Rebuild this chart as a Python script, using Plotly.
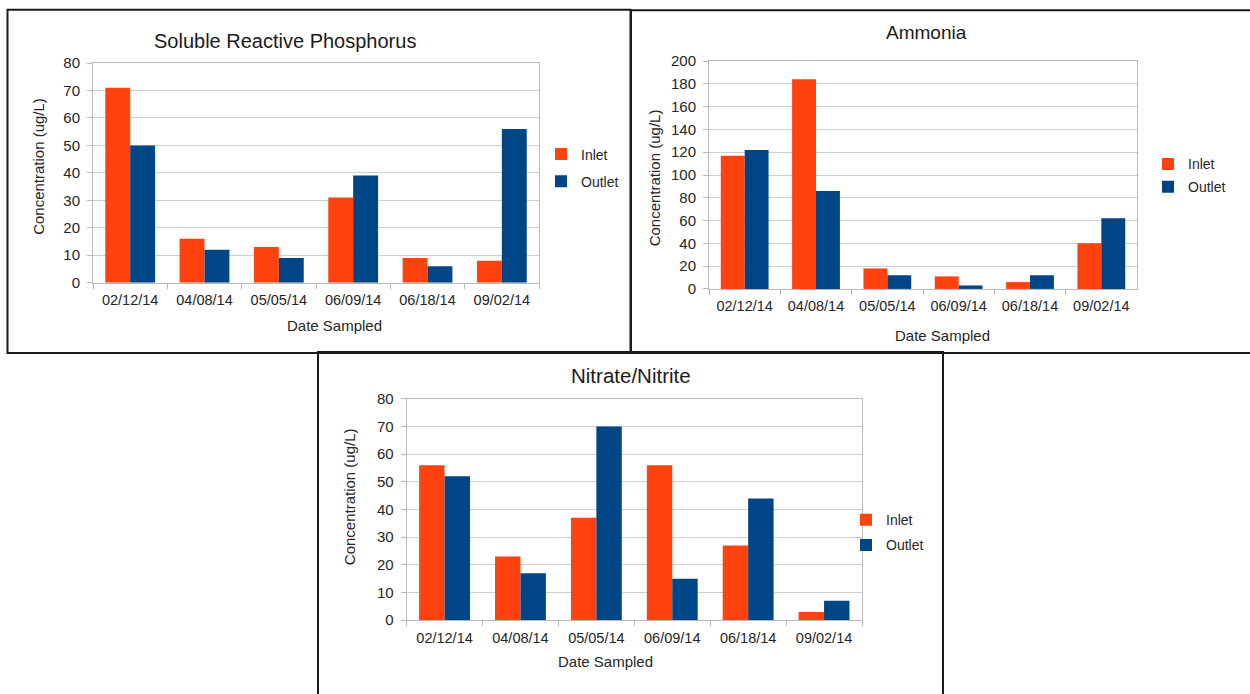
import plotly.graph_objects as go

W, H = 1250, 694

dates = ["02/12/14", "04/08/14", "05/05/14", "06/09/14", "06/18/14", "09/02/14"]

srp_inlet = [71, 16, 13, 31, 9, 8]
srp_outlet = [50, 12, 9, 39, 6, 56]

nh3_inlet = [117, 184, 18, 11, 6, 40]
nh3_outlet = [122, 86, 12, 3, 12, 62]

nox_inlet = [56, 23, 37, 56, 27, 3]
nox_outlet = [52, 17, 70, 15, 44, 7]

INLET_COLOR = "#FF420E"
OUTLET_COLOR = "#004586"
FONT = "Liberation Sans, Arial, sans-serif"
TEXT = "#262626"
GRID = "#cfcfcf"
AXIS = "#b8b8b8"

# page placement: top offset and usable height of the drawing on screen
TOP, SPAN = 7.8, 678.4


def fx(x):
    return x / W


def fy(y):
    return 1 - (y - TOP) / SPAN


panels = [
    dict(name="Soluble Reactive Phosphorus", inlet=srp_inlet, outlet=srp_outlet,
         x0=93, x1=539, y0=62, y1=282, ymax=80, dtick=10, title_size=20,
         title_xy=(285, 39.5), xt_xy=(334, 325), yt_xy=(39, 166),
         legend_xy=(541, 137.5), legend_gap=6, box=(7.5, 8.5, 630.5, 352.5)),
    dict(name="Ammonia", inlet=nh3_inlet, outlet=nh3_outlet,
         x0=709, x1=1137, y0=60, y1=288.3, ymax=200, dtick=20, title_size=19,
         title_xy=(926, 31.7), xt_xy=(942, 335), yt_xy=(654, 177.5),
         legend_xy=(1148, 147.5), legend_gap=1.5, box=(631, 9, 1253, 352.5)),
    dict(name="Nitrate/Nitrite", inlet=nox_inlet, outlet=nox_outlet,
         x0=406.6, x1=862, y0=398.3, y1=620.3, ymax=80, dtick=10, title_size=20.5,
         title_xy=(631, 375.5), xt_xy=(605, 662), yt_xy=(349, 497),
         legend_xy=(846, 504), legend_gap=4, box=(318, 351.5, 943, 720)),
]

fig = go.Figure()
annotations = []
shapes = []
layout_axes = {}

for i, p in enumerate(panels, start=1):
    suffix = "" if i == 1 else str(i)
    xa, ya = "x" + suffix, "y" + suffix
    leg = "legend" + suffix

    fig.add_trace(go.Bar(
        x=dates, y=p["inlet"], name="Inlet", marker_color=INLET_COLOR,
        marker_line_width=0, xaxis=xa, yaxis=ya, legend=leg,
        legendgroup="inlet%d" % i, hoverinfo="x+y+name"))
    fig.add_trace(go.Bar(
        x=dates, y=p["outlet"], name="Outlet", marker_color=OUTLET_COLOR,
        marker_line_width=0, xaxis=xa, yaxis=ya, legend=leg,
        legendgroup="outlet%d" % i, hoverinfo="x+y+name"))

    layout_axes["xaxis" + suffix] = dict(
        domain=[fx(p["x0"]), fx(p["x1"])], anchor=ya, type="category",
        showgrid=False, showline=True, linecolor=AXIS, linewidth=1, mirror=True,
        ticks="outside", tickson="boundaries", ticklen=5, tickcolor=AXIS,
        ticklabelstandoff=4,
        tickfont=dict(family=FONT, size=14.5, color=TEXT), fixedrange=True)
    layout_axes["yaxis" + suffix] = dict(
        domain=[fy(p["y1"]), fy(p["y0"])], anchor=xa,
        range=[0, p["ymax"]], dtick=p["dtick"], tick0=0,
        showgrid=True, gridcolor=GRID, gridwidth=1, zeroline=False,
        showline=True, linecolor=AXIS, linewidth=1, mirror=True,
        ticks="outside", ticklen=5, tickcolor=AXIS, ticklabelstandoff=4,
        tickfont=dict(family=FONT, size=15, color=TEXT), fixedrange=True)

    lx, ly = p["legend_xy"]
    layout_axes[leg] = dict(
        x=fx(lx), y=fy(ly), xanchor="left", yanchor="top",
        bgcolor="rgba(0,0,0,0)", borderwidth=0, itemwidth=30,
        tracegroupgap=p["legend_gap"], traceorder="grouped",
        font=dict(family=FONT, size=14, color=TEXT))

    tx, ty = p["title_xy"]
    annotations.append(dict(
        text=p["name"], x=fx(tx), y=fy(ty), xref="paper", yref="paper",
        xanchor="center", yanchor="middle", showarrow=False,
        font=dict(family=FONT, size=p["title_size"], color="#1a1a1a")))
    ax_, ay_ = p["xt_xy"]
    annotations.append(dict(
        text="Date Sampled", x=fx(ax_), y=fy(ay_), xref="paper", yref="paper",
        xanchor="center", yanchor="middle", showarrow=False,
        font=dict(family=FONT, size=15, color=TEXT)))
    bx, by = p["yt_xy"]
    annotations.append(dict(
        text="Concentration (ug/L)", x=fx(bx), y=fy(by), xref="paper", yref="paper",
        xanchor="center", yanchor="middle", showarrow=False, textangle=-90,
        font=dict(family=FONT, size=15, color=TEXT)))

    b = p["box"]
    shapes.append(dict(
        type="rect", xref="paper", yref="paper",
        x0=fx(b[0]), y0=fy(b[1]), x1=fx(b[2]), y1=fy(b[3]),
        line=dict(color="#1a1a1a", width=2), layer="below"))

fig.update_layout(
    width=W, height=H, margin=dict(l=0, r=0, t=0, b=0),
    paper_bgcolor="white", plot_bgcolor="white",
    barmode="group", bargap=0.33, bargroupgap=0,
    annotations=annotations, shapes=shapes,
    **layout_axes)

fig.write_html("out.html", config={"displayModeBar": False})
